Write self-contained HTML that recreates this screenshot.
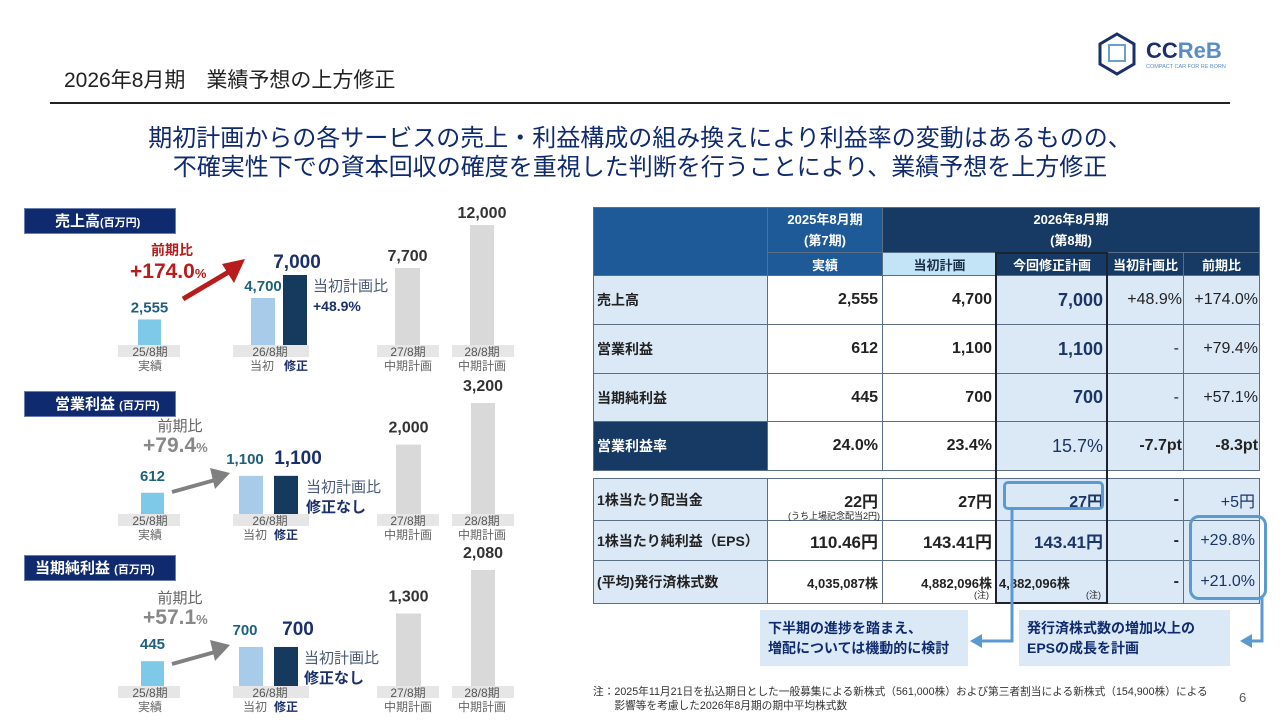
<!DOCTYPE html>
<html><head><meta charset="utf-8">
<style>
*{margin:0;padding:0;box-sizing:border-box}
body{width:1280px;height:720px;background:#fff;position:relative;overflow:hidden;font-family:"Liberation Sans","Noto Sans CJK JP",sans-serif;color:#222}
.a{position:absolute;white-space:nowrap}
.tag{position:absolute;background:#0f2a6e;color:#fff;font-weight:bold;font-size:15px;height:26px;line-height:26px;padding-left:30px;width:152px;border:1px solid #6a7fb0}
.tag small{font-size:11px}
table{position:absolute;left:593px;top:207px;border-collapse:collapse;font-weight:bold;font-size:16px;table-layout:fixed;width:666px}
td{border:1px solid #5a6f86;padding:0 4px;white-space:nowrap;overflow:visible}
.lb{background:#dbe9f7;text-align:left;font-size:14px;padding-left:3px}
.w{background:#fff;text-align:right}
.r{background:#dbe9f7;text-align:right}
.m{color:#1b3566}
.h1{background:#1f5a98;color:#fff;text-align:center;font-size:13px}
.h2{background:#163a64;color:#fff;text-align:center;font-size:13px}
.box{position:absolute;background:#dbe9f7;color:#0f2a6e;font-weight:bold;font-size:14px;line-height:20px;padding:8px 0 0 8px}
</style></head><body>
<div class="a" style="left:64px;top:64px;font-size:21px">2026年8月期　業績予想の上方修正</div>
<div class="a" style="left:50px;top:102px;width:1180px;height:2px;background:#222"></div>
<svg class="a" style="left:1098px;top:32px" width="160" height="44">
<polygon points="19,2 36,12 36,32 19,42 2,32 2,12" fill="none" stroke="#1b2f6b" stroke-width="3"/>
<rect x="11" y="13" width="16" height="16" fill="none" stroke="#6aa0d0" stroke-width="2"/>
<text x="48" y="26" font-size="22" font-weight="bold" fill="#1b2f6b" font-family="Liberation Sans">CC<tspan fill="#5a8cc8">ReB</tspan></text>
<text x="48" y="36" font-size="5.5" fill="#5a8cc8" font-family="Liberation Sans">COMPACT CAR FOR RE BORN</text>
</svg>
<div class="a" style="left:0;width:1280px;top:124px;text-align:center;font-size:24px;line-height:29px;color:#0f2a6e">期初計画からの各サービスの売上・利益構成の組み換えにより利益率の変動はあるものの、<br>不確実性下での資本回収の確度を重視した判断を行うことにより、業績予想を上方修正</div>

<div class="tag" style="left:24px;top:208px">売上高<small>(百万円)</small></div>
<div class="tag" style="left:24px;top:391px">営業利益 <small>(百万円)</small></div>
<div class="tag" style="left:24px;top:555px;padding-left:10px">当期純利益 <small>(百万円)</small></div>

<div id="charts"></div>

<table>
<colgroup><col style="width:174px"><col style="width:115px"><col style="width:114px"><col style="width:111px"><col style="width:76px"><col style="width:76px"></colgroup>
<tr style="height:45px"><td rowspan="2" class="h1"></td><td class="h1" style="line-height:21px">2025年8月期<br>(第7期)</td><td colspan="4" class="h2" style="line-height:21px">2026年8月期<br>(第8期)</td></tr>
<tr style="height:23px"><td class="h1">実績</td><td class="h1" style="background:#c3e3f6;color:#1b2f4b">当初計画</td><td class="h2">今回修正計画</td><td class="h2">当初計画比</td><td class="h2">前期比</td></tr>
<tr style="height:49px"><td class="lb">売上高</td><td class="w">2,555</td><td class="w">4,700</td><td class="r m" style="font-size:18px">7,000</td><td class="r" style="font-weight:normal;padding:0 1px">+48.9%</td><td class="r" style="font-weight:normal;padding:0 1px">+174.0%</td></tr>
<tr style="height:49px"><td class="lb">営業利益</td><td class="w">612</td><td class="w">1,100</td><td class="r m" style="font-size:18px">1,100</td><td class="r" style="font-weight:normal">-</td><td class="r" style="font-weight:normal;padding:0 1px">+79.4%</td></tr>
<tr style="height:48px"><td class="lb">当期純利益</td><td class="w">445</td><td class="w">700</td><td class="r m" style="font-size:18px">700</td><td class="r" style="font-weight:normal">-</td><td class="r" style="font-weight:normal;padding:0 1px">+57.1%</td></tr>
<tr style="height:49px"><td class="lb" style="background:#163a64;color:#fff">営業利益率</td><td class="w">24.0%</td><td class="w">23.4%</td><td class="r m" style="font-size:18px;font-weight:normal">15.7%</td><td class="r" style="padding:0 1px">-7.7pt</td><td class="r" style="padding:0 1px">-8.3pt</td></tr>
<tr style="height:8px"><td colspan="6" style="border-left:none;border-right:none;background:#fff"></td></tr>
<tr style="height:42px"><td class="lb">1株当たり配当金</td><td class="w" style="position:relative">22円<span style="position:absolute;right:2px;top:30px;font-size:9px;font-weight:normal">(うち上場記念配当2円)</span></td><td class="w">27円</td><td class="r m">27円</td><td class="r">-</td><td class="r m" style="font-weight:normal">+5円</td></tr>
<tr style="height:40px"><td class="lb">1株当たり純利益（EPS）</td><td class="w" style="font-size:17px">110.46円</td><td class="w" style="font-size:17px">143.41円</td><td class="r m" style="font-size:17px">143.41円</td><td class="r">-</td><td class="r m" style="font-weight:normal">+29.8%</td></tr>
<tr style="height:43px"><td class="lb">(平均)発行済株式数</td><td class="w" style="font-size:13px">4,035,087株</td><td class="w" style="font-size:13px">4,882,096株</td><td class="r" style="font-size:13px;text-align:left;padding:0 2px">4,882,096株</td><td class="r">-</td><td class="r m" style="font-weight:normal">+21.0%</td></tr>
</table>
<div class="a" style="left:995px;top:252px;width:113px;height:352px;border:2px solid #1b2330"></div>
<div class="a" style="left:974px;top:588px;font-size:9px">(注)</div>
<div class="a" style="left:1086px;top:588px;font-size:9px">(注)</div>
<div class="a" style="left:1003px;top:481px;width:101px;height:29px;border:3px solid #5b9ad0;border-radius:5px"></div>
<div class="a" style="left:1189px;top:515px;width:78px;height:85px;border:3px solid #5b9ad0;border-radius:10px"></div>
<div class="box" style="left:760px;top:610px;width:208px;height:56px">下半期の進捗を踏まえ、<br>増配については機動的に検討</div>
<div class="box" style="left:1019px;top:610px;width:211px;height:56px">発行済株式数の増加以上の<br>EPSの成長を計画</div>
<svg class="a" style="left:0;top:0" width="1280" height="720">
<polyline points="1012,510 1012,641 980,641" fill="none" stroke="#5b9ad0" stroke-width="3"/>
<polygon points="970,641 982,634 982,648" fill="#5b9ad0"/>
<polyline points="1262,598 1262,641 1250,641" fill="none" stroke="#5b9ad0" stroke-width="3"/>
<polygon points="1240,641 1252,634 1252,648" fill="#5b9ad0"/>
</svg>
<div class="a" style="left:593px;top:685px;font-size:10.7px;line-height:14px;color:#333">注：2025年11月21日を払込期日とした一般募集による新株式（561,000株）および第三者割当による新株式（154,900株）による<br>　　影響等を考慮した2026年8月期の期中平均株式数</div>
<div class="a" style="left:1239px;top:690px;font-size:13px;color:#555">6</div>

<script>
const periods = ["25/8期","26/8期","27/8期","28/8期"];
const salesValues = [2555, 4700, 7000, 7700, 12000];
const opValues = [612, 1100, 1100, 2000, 3200];
const netValues = [445, 700, 700, 1300, 2080];
const salesLabels = ["2,555","4,700","7,000","7,700","12,000"];
const opLabels = ["612","1,100","1,100","2,000","3,200"];
const netLabels = ["445","700","700","1,300","2,080"];
const yoyLabels = ["+174.0","+79.4","+57.1"];
const vsPlan = ["+48.9%","修正なし","修正なし"];

const svgNS="http://www.w3.org/2000/svg";
const svg=document.createElementNS(svgNS,"svg");
svg.setAttribute("width","560");svg.setAttribute("height","720");
svg.setAttribute("style","position:absolute;left:0;top:0");


document.getElementById("charts").appendChild(svg);
function mk(tag,attrs,text){const e=document.createElementNS(svgNS,tag);for(const k in attrs)e.setAttribute(k,attrs[k]);if(text!==undefined)e.textContent=text;svg.appendChild(e);return e;}

const barW=[23,24,24,25,24];
const barFill=["#7ec8e8","#a8cbea","#163a5e","#d9d9d9","#d9d9d9"];
const labFill=["#1f5f7f","#1f5f7f","#1b2f6b","#333","#333"];
const charts=[
 {vals:salesValues,labs:salesLabels,base:345,scale:120/12000,yoy:yoyLabels[0],plan:vsPlan[0],red:true,bx:[138,251,283,395,470],px:313},
 {vals:opValues,labs:opLabels,base:514,scale:111/3200,yoy:yoyLabels[1],plan:vsPlan[1],bx:[141,239,274,396,471],px:306},
 {vals:netValues,labs:netLabels,base:686,scale:116/2080,yoy:yoyLabels[2],plan:vsPlan[2],bx:[141,239,274,396,471],px:304}
];
function y(c,v){return c.base-v*c.scale;}
charts.forEach((c,ci)=>{
 const barX=c.bx;
 c.vals.forEach((v,i)=>{
  const b=mk("rect",{x:barX[i],y:y(c,v),width:barW[i],height:v*c.scale,fill:barFill[i]});
  
  
  let cx=barX[i]+barW[i]/2;
  if(i==1&&!c.red)cx-=6;
  if(i==2)cx+=(c.red?2:12);
  const t=mk("text",{x:cx,y:y(c,v)-(c.red?7:12),"text-anchor":"middle","font-size":i==2?19:(i>2?16:15),"font-weight":"bold",fill:labFill[i]},c.labs[i]);
  
  
 });
 const bandX=[118,233,377,452], bandW=[62,76,62,62], cx=[150,270,408,482];
 periods.forEach((p,i)=>{
  mk("rect",{x:bandX[i],y:c.base,width:bandW[i],height:12,fill:"#e6e6e6"});
  mk("text",{x:cx[i],y:c.base+11,"text-anchor":"middle","font-size":12,fill:"#555"},p);
 });
 mk("text",{x:150,y:c.base+25,"text-anchor":"middle","font-size":12,fill:"#666"},"実績");
 mk("text",{x:c.red?262:255,y:c.base+25,"text-anchor":"middle","font-size":12,fill:"#666"},"当初");
 mk("text",{x:c.red?296:286,y:c.base+25,"text-anchor":"middle","font-size":12,"font-weight":"bold",fill:"#1b2f6b"},"修正");
 mk("text",{x:408,y:c.base+25,"text-anchor":"middle","font-size":12,fill:"#666"},"中期計画");
 mk("text",{x:482,y:c.base+25,"text-anchor":"middle","font-size":12,fill:"#666"},"中期計画");
 const px=c.px, py=y(c,c.vals[2])+16;
 mk("text",{x:px,y:py,"font-size":15,fill:"#4a5a78"},"当初計画比");
 mk("text",{x:px,y:py+20,"font-size":c.red?14:15,"font-weight":"bold",fill:"#1b2f6b"},c.plan);
 const col=c.red?"#b81c1c":"#808080";
 if(c.red){
  mk("text",{x:172,y:255,"text-anchor":"middle","font-size":14,"font-weight":"bold",fill:col},"前期比");
  const t=mk("text",{x:130,y:278,"font-size":21,"font-weight":"bold",fill:col},c.yoy);
  const s=document.createElementNS(svgNS,"tspan");s.setAttribute("font-size","13");s.textContent="%";t.appendChild(s);
  mk("line",{x1:183,y1:299,x2:232,y2:270,stroke:col,"stroke-width":5});
  mk("polygon",{points:"245,259 222,264 234,283",fill:col});
 } else {
  const ty=c.base-62;
  mk("text",{x:180,y:ty-21,"text-anchor":"middle","font-size":15,fill:"#666"},"前期比");
  const t=mk("text",{x:143,y:ty,"font-size":21,"font-weight":"bold",fill:"#888"},c.yoy);
  const s=document.createElementNS(svgNS,"tspan");s.setAttribute("font-size","13");s.textContent="%";t.appendChild(s);
  const ay=c.base-22;
  mk("line",{x1:172,y1:ay,x2:215,y2:ay-12,stroke:col,"stroke-width":4});
  mk("polygon",{points:`230,${ay-19} 210,${ay-24} 215,${ay-3}`,fill:col});
 }
});
</script>
</body></html>
